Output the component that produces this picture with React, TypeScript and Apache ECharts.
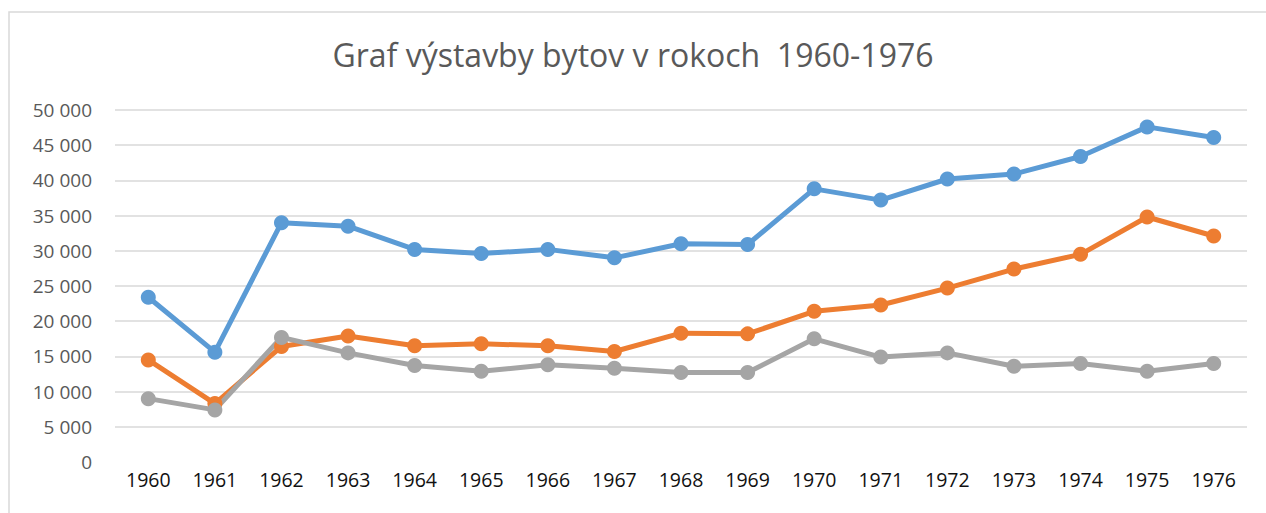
import React, { useEffect, useRef } from "react";
import * as echarts from "echarts";

const title = "Graf výstavby bytov v rokoch  1960-1976";
const years = ["1960","1961","1962","1963","1964","1965","1966","1967","1968","1969","1970","1971","1972","1973","1974","1975","1976"];
const blueValues = [23400,15600,34000,33500,30200,29600,30200,29000,31000,30900,38800,37200,40200,40900,43400,47600,46100];
const orangeValues = [14500,8300,16400,17900,16500,16800,16500,15700,18300,18200,21400,22300,24700,27400,29500,34800,32100];
const grayValues = [9000,7400,17700,15500,13700,12900,13800,13300,12700,12700,17500,14900,15500,13600,14000,12900,14000];

const FONT = "'Open Sans', 'Noto Sans', sans-serif";

export default function App() {
  const ref = useRef<HTMLDivElement>(null);
  useEffect(() => {
    if (!ref.current) return;
    const chart = echarts.init(ref.current, undefined, { renderer: "svg" });
    const mk = (data: number[], color: string) => ({
      type: "line",
      data,
      symbol: "circle",
      symbolSize: 15,
      lineStyle: { color, width: 5 },
      itemStyle: { color },
      z: 2,
    });
    chart.setOption({
      animation: false,
      backgroundColor: "#ffffff",
      title: {
        text: title,
        left: "center",
        top: 33,
        textStyle: { fontFamily: FONT, fontSize: 32, fontWeight: "normal", color: "#595959" },
      },
      graphic: [
        {
          type: "polyline",
          shape: { points: [[9, 513], [9, 12], [1266, 12]] },
          style: { stroke: "#d9d9d9", lineWidth: 1.5, fill: "none" },
        },
      ],
      grid: { left: 115, right: 19, top: 110, bottom: 51 },
      xAxis: {
        type: "category",
        data: years,
        boundaryGap: true,
        axisLine: { show: false },
        axisTick: { show: false },
        axisLabel: { color: "#111111", fontFamily: FONT, fontSize: 19.5, margin: 7 },
      },
      yAxis: {
        type: "value",
        min: 0,
        max: 50000,
        interval: 5000,
        axisLine: { show: false },
        axisTick: { show: false },
        axisLabel: {
          color: "#595959",
          fontFamily: FONT,
          fontSize: 19,
          margin: 23,
          formatter: (v: number) => (v >= 1000 ? `${Math.floor(v / 1000)} ${String(v % 1000).padStart(3, "0")}` : `${v}`),
        },
        splitLine: { show: true, showMinLine: false, lineStyle: { color: "#d9d9d9", width: 1.5 } },
      },
      series: [mk(blueValues, "#5B9BD5"), mk(orangeValues, "#ED7D31"), mk(grayValues, "#A5A5A5")],
    });
    return () => chart.dispose();
  }, []);
  return <div ref={ref} style={{ position: "fixed", left: 0, top: 0, width: 1266, height: 513 }} />;
}
